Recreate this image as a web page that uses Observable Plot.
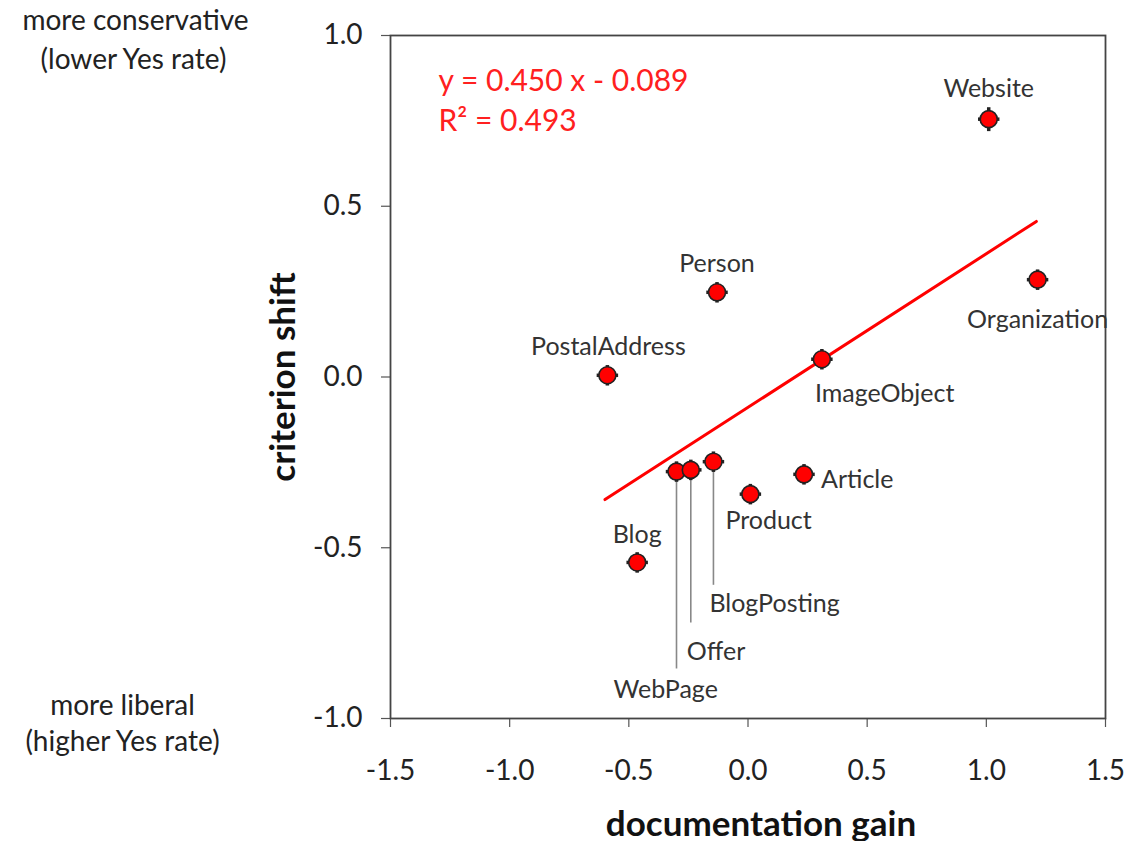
<!DOCTYPE html>
<html>
<head>
<meta charset="utf-8">
<script src="https://cdn.jsdelivr.net/npm/d3@7"></script>
<script src="https://cdn.jsdelivr.net/npm/@observablehq/plot@0.6"></script>
<style>
  html, body { margin: 0; padding: 0; background: #fff; }
  #chart svg { display: block; }
</style>
</head>
<body>
<div id="chart"></div>
<script>
// ---- data ----
const names = ["Website", "Organization", "Person", "PostalAddress", "ImageObject", "WebPage", "Offer", "BlogPosting", "Product", "Article", "Blog"];
const docGain = [1.01, 1.215, -0.13, -0.59, 0.31, -0.30, -0.24, -0.145, 0.01, 0.235, -0.465];
const critShift = [0.755, 0.285, 0.248, 0.005, 0.052, -0.277, -0.272, -0.248, -0.343, -0.285, -0.543];
const errX = [0.045, 0.045, 0.045, 0.045, 0.045, 0.045, 0.045, 0.045, 0.045, 0.045, 0.045];
const errY = [0.035, 0.03, 0.03, 0.03, 0.03, 0.03, 0.03, 0.03, 0.03, 0.03, 0.03];
const xTicks = [-1.5, -1.0, -0.5, 0.0, 0.5, 1.0, 1.5];
const yTicks = [-1.0, -0.5, 0.0, 0.5, 1.0];
const slope = 0.450, intercept = -0.089, r2 = 0.493;
const fitRange = [-0.6, 1.21];
// leader lines (end of the connector, in criterion-shift units)
const leaderNames = ["WebPage", "Offer", "BlogPosting"];
const leaderEnds = [-0.855, -0.72, -0.61];

// ---- layout for labels (pixel offsets, anchors) ----
const labelLayout = {
  Website:       {dx: 0,   dy: -30, anchor: "middle"},
  Organization:  {dx: 0,   dy: 40,  anchor: "middle"},
  Person:        {dx: 0,   dy: -28, anchor: "middle"},
  PostalAddress: {dx: 1,   dy: -28, anchor: "middle"},
  ImageObject:   {dx: -7,  dy: 35,  anchor: "start"},
  WebPage:       {dx: -63, dy: 218, anchor: "start"},
  Offer:         {dx: -4,  dy: 182, anchor: "start"},
  BlogPosting:   {dx: -4,  dy: 142, anchor: "start"},
  Product:       {dx: -25, dy: 27,  anchor: "start"},
  Article:       {dx: 17,  dy: 6,   anchor: "start"},
  Blog:          {dx: 0,   dy: -27, anchor: "middle"}
};

const pts = names.map((n, i) => ({name: n, x: docGain[i], y: critShift[i], ex: errX[i], ey: errY[i], ...labelLayout[n]}));
const leaders = leaderNames.map((n, i) => {
  const p = pts.find(d => d.name === n);
  return {x: p.x, y1: p.y - 0.03, y2: leaderEnds[i]};
});
const fit = fitRange.map(x => ({x, y: slope * x + intercept}));

const fmt = d => d.toFixed(1);
const font = "Lato, 'Open Sans', sans-serif";

const labelMarks = ["start", "middle"].map(a => {
  const data = pts.filter(d => d.anchor === a);
  return Plot.text(data, {
    x: "x", y: "y", text: "name", textAnchor: a,
    fill: "#333", fontSize: 25,
    render: (index, scales, values, dims, ctx, next) => {
      const g = next(index, scales, values, dims, ctx);
      d3.select(g).selectAll("text").each(function(_, j) {
        const d = data[index[j]];
        const t = d3.select(this);
        const tr = t.attr("transform") || "";
        t.attr("transform", tr + ` translate(${d.dx},${d.dy})`);
      });
      return g;
    }
  });
});

const ann = (txt, anchor, dx, dy, opts = {}) =>
  Plot.text([txt], {frameAnchor: anchor, dx, dy, text: d => d, textAnchor: "middle", lineAnchor: "middle", ...opts});

const chart = Plot.plot({
  width: 1130,
  height: 841,
  marginLeft: 390,
  marginRight: 25,
  marginTop: 35,
  marginBottom: 123,
  style: {fontFamily: font, background: "#fff", overflow: "visible"},
  x: {domain: [-1.5, 1.5]},
  y: {domain: [-1.0, 1.0]},
  marks: [
    Plot.axisY(yTicks, {tickFormat: fmt, tickSize: 9, tickPadding: 19, fontSize: 28, stroke: "#555", strokeWidth: 1.2, fill: "#222", label: null}),
    Plot.axisX(xTicks, {tickFormat: fmt, tickSize: 9, tickPadding: 33, fontSize: 28, stroke: "#555", strokeWidth: 1.2, fill: "#222", label: null}),
    Plot.frame({stroke: "#444", strokeWidth: 1.8}),
    Plot.ruleX(leaders, {x: "x", y1: "y1", y2: "y2", stroke: "#888", strokeWidth: 1.6}),
    Plot.line(fit, {x: "x", y: "y", stroke: "#ff0000", strokeWidth: 3}),
    Plot.link(pts, {x1: d => d.x - d.ex, x2: d => d.x + d.ex, y1: "y", y2: "y", stroke: "#222", strokeWidth: 3.5}),
    Plot.link(pts, {x1: "x", x2: "x", y1: d => d.y - d.ey, y2: d => d.y + d.ey, stroke: "#222", strokeWidth: 3.5}),
    Plot.dot(pts, {x: "x", y: "y", r: 8.5, fill: "#ff0000", stroke: "#222", strokeWidth: 1.6}),
    ...labelMarks,
    Plot.text([`y = ${slope.toFixed(3)} x - ${Math.abs(intercept).toFixed(3)}`], {frameAnchor: "top-left", dx: 48, dy: 46, text: d => d, fill: "#ff2020", fontSize: 30, textAnchor: "start", lineAnchor: "middle"}),
    Plot.text([`R² = ${r2.toFixed(3)}`], {frameAnchor: "top-left", dx: 48, dy: 86, text: d => d, fill: "#ff2020", fontSize: 30, textAnchor: "start", lineAnchor: "middle"}),
    ann("criterion shift", "left", -107, 0, {rotate: -90, fontSize: 35, fontWeight: "bold", fill: "#111"}),
    ann("documentation gain", "bottom", 13, 106, {fontSize: 35, fontWeight: "bold", fill: "#111"}),
    ann("more conservative", "top-left", -255, -14, {fontSize: 28, fill: "#222"}),
    ann("(lower Yes rate)", "top-left", -257, 25, {fontSize: 28, fill: "#222"}),
    ann("more liberal", "bottom-left", -268, -12, {fontSize: 28, fill: "#222"}),
    ann("(higher Yes rate)", "bottom-left", -268, 24, {fontSize: 28, fill: "#222"})
  ]
});
document.getElementById("chart").appendChild(chart);
</script>
</body>
</html>
